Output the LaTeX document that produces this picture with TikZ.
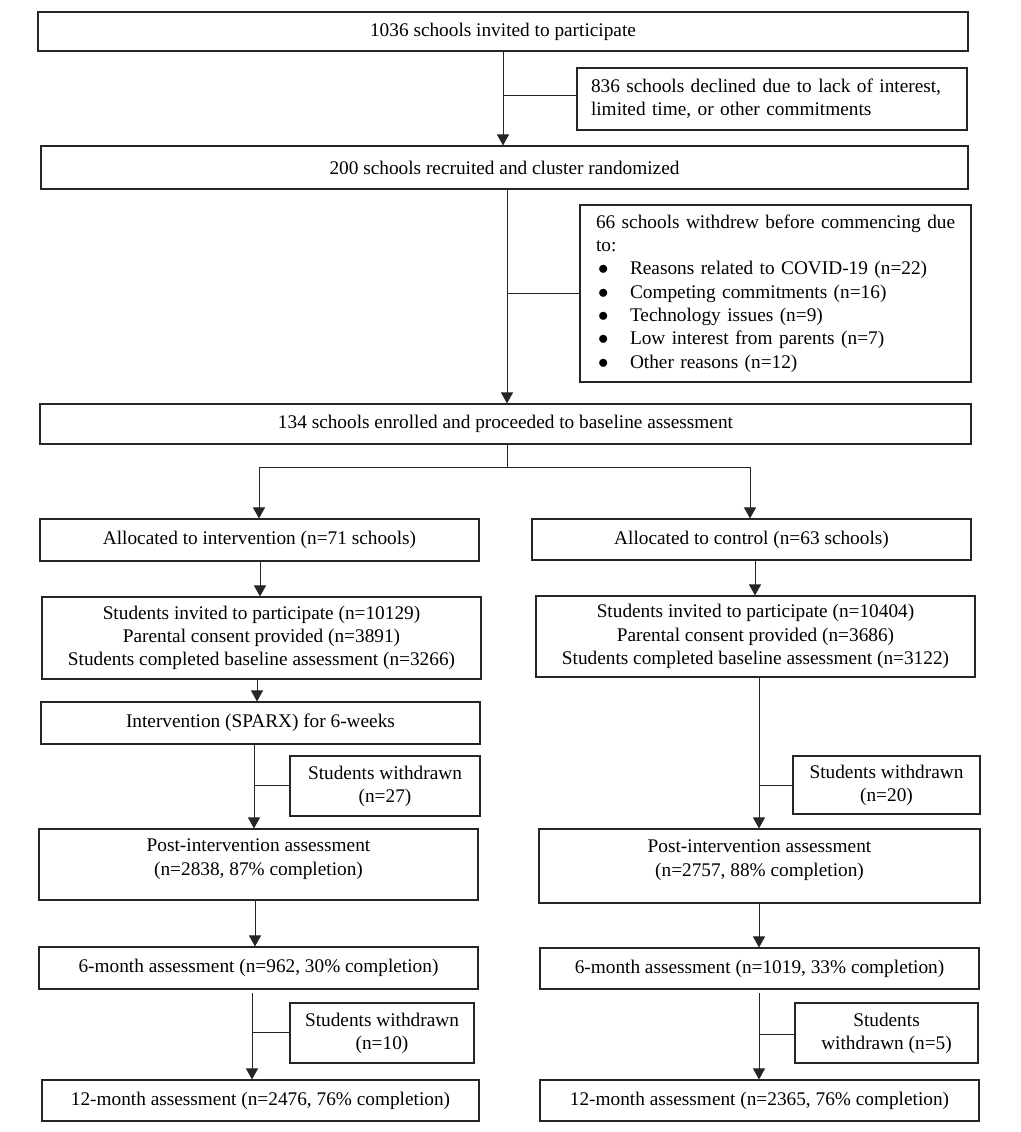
\documentclass[tikz,border=0pt]{standalone}
\usepackage{fontspec}
\setmainfont{Liberation Serif}
\usetikzlibrary{arrows.meta}
\newcommand{\blt}{\makebox[34pt][l]{\hspace{2pt}$\bullet$}}
\begin{document}
\begin{tikzpicture}[x=1pt,y=-1pt,
  box/.style={draw=black!85, line width=1.1pt, inner sep=0pt, align=center,
    font=\fontsize{19.3}{23.3}\selectfont},
  lbox/.style={box, align=left},
  ln/.style={draw=black!85, line width=1pt},
  arr/.style={ln, -{Triangle[width=12pt,length=11pt]}}]
\useasboundingbox (0,0) rectangle (1020,1132);

% boxes
\node[box, minimum width=930, minimum height=39] (b1) at (503,31.5) {1036 schools invited to participate};
\node[lbox, minimum height=62, text width=362, inner xsep=14] (dec) at (772,99)
  {\mbox{836 schools declined due to lack of interest,}\\\mbox{limited time, or other commitments}};
\node[box, minimum width=927, minimum height=43] (b2) at (504.5,167.5) {200 schools recruited and cluster randomized};
\node[lbox, minimum height=177, text width=359, inner xsep=16] (wd) at (775.5,293.5)
  {\mbox{66 schools withdrew before commencing due}\\
   to:\\
   \mbox{\blt Reasons related to COVID-19 (n=22)}\\
   \mbox{\blt Competing commitments (n=16)}\\
   \mbox{\blt Technology issues (n=9)}\\
   \mbox{\blt Low interest from parents (n=7)}\\
   \mbox{\blt Other reasons (n=12)}};
\node[box, minimum width=931, minimum height=40] (b3) at (505.5,424) {134 schools enrolled and proceeded to baseline assessment};

\node[box, minimum width=439, minimum height=42] (aL) at (259.5,540) {Allocated to intervention (n=71 schools)};
\node[box, minimum width=439, minimum height=41] (aR) at (751.5,539.5) {Allocated to control (n=63 schools)};

\node[box, minimum width=439, minimum height=82] (sL) at (261.5,638)
  {Students invited to participate (n=10129)\\Parental consent provided (n=3891)\\Students completed baseline assessment (n=3266)};
\node[box, minimum width=439, minimum height=81] (sR) at (755.5,636.5)
  {Students invited to participate (n=10404)\\Parental consent provided (n=3686)\\Students completed baseline assessment (n=3122)};

\node[box, minimum width=439, minimum height=42] (iL) at (260.5,723) {Intervention (SPARX) for 6-weeks};

\node[box, minimum width=190, minimum height=60] (wL1) at (385,786) {Students withdrawn\\(n=27)};
\node[box, minimum width=187, minimum height=58] (wR1) at (886.5,785) {Students withdrawn\\(n=20)};

\node[box, minimum width=439, minimum height=71, text depth=15pt] (pL) at (258.5,864.5) {Post-intervention assessment\\(n=2838, 87\% completion)};
\node[box, minimum width=441, minimum height=74, text depth=16pt] (pR) at (759.5,866) {Post-intervention assessment\\(n=2757, 88\% completion)};

\node[box, minimum width=439, minimum height=42] (mL) at (258.5,968) {6-month assessment (n=962, 30\% completion)};
\node[box, minimum width=439, minimum height=41] (mR) at (759.5,968.5) {6-month assessment (n=1019, 33\% completion)};

\node[box, minimum width=184, minimum height=60] (wL2) at (382,1033) {Students withdrawn\\(n=10)};
\node[box, minimum width=183, minimum height=60] (wR2) at (886.5,1033) {Students\\withdrawn (n=5)};

\node[box, minimum width=437, minimum height=41] (yL) at (260.5,1100.5) {12-month assessment (n=2476, 76\% completion)};
\node[box, minimum width=439, minimum height=41] (yR) at (759.5,1100.5) {12-month assessment (n=2365, 76\% completion)};

% connectors
\coordinate (k1) at (503,95);
\draw[arr] (b1.south -| k1) -- (b2.north -| k1);
\draw[ln] (k1) -- (dec.west |- k1);

\coordinate (k2) at (507,293);
\draw[arr] (b2.south -| k2) -- (b3.north -| k2);
\draw[ln] (k2) -- (wd.west |- k2);

\coordinate (k3) at (507,467);
\coordinate (kL) at (259,467);
\coordinate (kR) at (750,467);
\draw[ln] (b3.south -| k3) -- (k3);
\draw[ln] (kL) -- (kR);
\draw[arr] (kL) -- (aL.north -| kL);
\draw[arr] (kR) -- (aR.north -| kR);

\coordinate (k4) at (260,0);
\draw[arr] (aL.south -| k4) -- (sL.north -| k4);
\coordinate (k5) at (755,0);
\draw[arr] (aR.south -| k5) -- (sR.north -| k5);
\coordinate (k6) at (257,0);
\draw[arr] (sL.south -| k6) -- (iL.north -| k6);

\coordinate (k7) at (254,785);
\draw[arr] (iL.south -| k7) -- (pL.north -| k7);
\draw[ln] (k7) -- (wL1.west |- k7);
\coordinate (k8) at (759,785);
\draw[arr] (sR.south -| k8) -- (pR.north -| k8);
\draw[ln] (k8) -- (wR1.west |- k8);

\coordinate (k9) at (255,0);
\draw[arr] (pL.south -| k9) -- (mL.north -| k9);
\coordinate (k10) at (759,0);
\draw[arr] (pR.south -| k10) -- (mR.north -| k10);

\coordinate (k11) at (252,1032);
\draw[arr, shorten <=3.5pt] (mL.south -| k11) -- (yL.north -| k11);
\draw[ln] (k11) -- (wL2.west |- k11);
\coordinate (k12) at (759,1034);
\draw[arr, shorten <=3.5pt] (mR.south -| k12) -- (yR.north -| k12);
\draw[ln] (k12) -- (wR2.west |- k12);
\end{tikzpicture}
\end{document}
